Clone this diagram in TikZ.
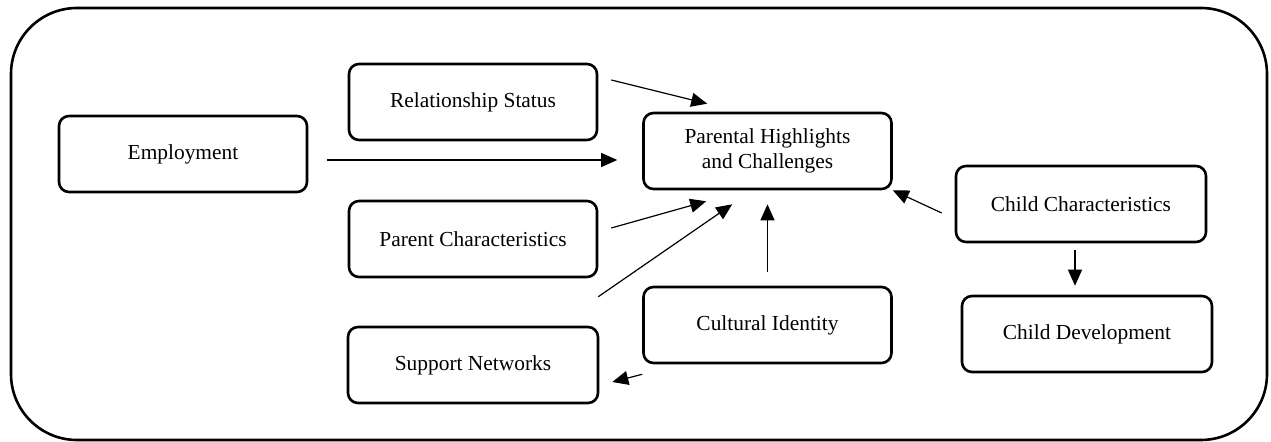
\documentclass[tikz,border=0pt]{standalone}
\usepackage{fontspec}
\setmainfont{Liberation Serif}
\usetikzlibrary{calc,arrows.meta}
\begin{document}
\begin{tikzpicture}[x=0.5pt,y=-0.5pt,
  box/.style={draw, line width=1.3pt, rounded corners=5pt, inner sep=0pt,
    minimum width=124pt, minimum height=38pt, align=center,
    font=\fontsize{10.7}{12.5}\selectfont},
  conn/.style={line width=0.6pt, -{Triangle[length=8pt,width=7pt]}}]
\useasboundingbox (0,0) rectangle (1271,442);
\draw[line width=1.3pt, rounded corners=33pt] (11,8) rectangle (1267,440);

\node[box] (emp) at (183,154) {Employment};
\node[box] (rel) at (473,102) {Relationship Status};
\node[box] (par) at (767.5,151) {Parental Highlights\\and Challenges};
\node[box] (pc)  at (473,239) {Parent Characteristics};
\node[box, minimum width=125pt] (sn) at (473,365) {Support Networks};
\node[box] (ci)  at (767.5,325) {Cultural Identity};
\node[box, minimum width=125pt] (cc) at (1081,204) {Child Characteristics};
\node[box, minimum width=125pt] (cd) at (1087,334) {Child Development};

% endpoints
\coordinate (relS) at ($(rel.east)+(13,-22)$);
\coordinate (relE) at ($(par.north west)+(65,-8)$);
\coordinate (empS) at ($(emp.east)+(19,6)$);
\coordinate (empE) at ($(par.west)+(-25,9)$);
\coordinate (pcS)  at ($(pc.east)+(13,-11)$);
\coordinate (pcE)  at ($(par.south west)+(64,11)$);
\coordinate (snS)  at ($(sn.north east)+(-1,-29)$);
\coordinate (snE)  at ($(par.south west)+(90,14)$);
\coordinate (ciS)  at ($(ci.north)+(0,-14)$);
\coordinate (ciE)  at ($(par.south)+(0,14)$);
\coordinate (ccS)  at ($(cc.west)+(-13,9)$);
\coordinate (ccE)  at ($(par.south east)+(0,0)$);
\coordinate (cdS)  at ($(cc.south)+(-6,7)$);
\coordinate (cdE)  at ($(cd.north)+(-12,-9)$);
\coordinate (ci2S) at ($(ci.south west)+(0,10)$);
\coordinate (ci2E) at ($(sn.east)+(13,17)$);

\draw[conn] (relS) -- (relE);
\draw[conn] (empS) -- (empE);
\draw[conn] (pcS) -- (pcE);
\draw[conn] (snS) -- (snE);
\draw[conn] (ciS) -- (ciE);
\draw[conn] (ccS) -- (ccE);
\draw[conn] (cdS) -- (cdE);
\draw[conn] (ci2S) -- (ci2E);
\end{tikzpicture}
\end{document}
